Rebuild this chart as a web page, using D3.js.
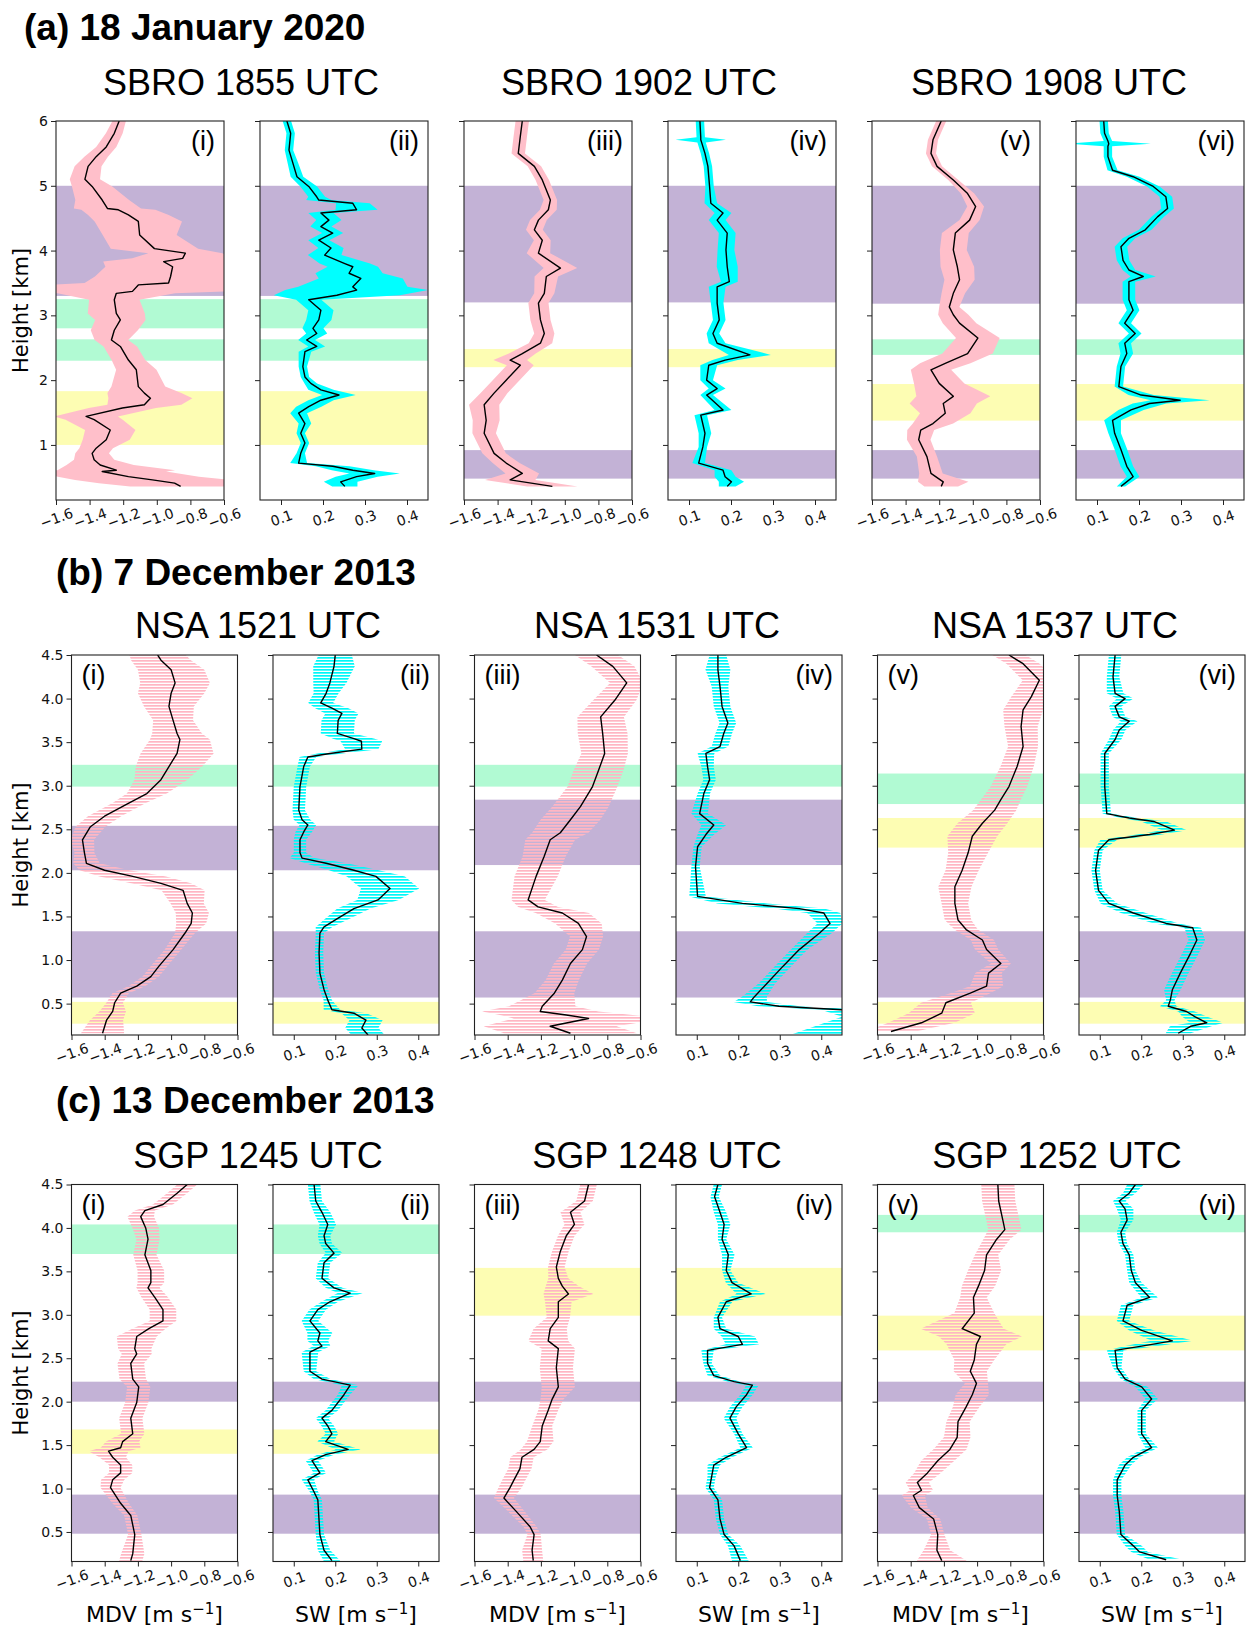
<!DOCTYPE html>
<html><head><meta charset="utf-8">
<script src="https://cdn.jsdelivr.net/npm/d3@7"></script>
<style>body{margin:0;background:#fff}svg{display:block}</style>
</head><body>
<svg id="fig" width="1259" height="1636"></svg>
<script>
// ---------------- data ----------------
const rowTitles = ["(a) 18 January 2020", "(b) 7 December 2013", "(c) 13 December 2013"];
const subTitlesA = ["SBRO 1855 UTC", "SBRO 1902 UTC", "SBRO 1908 UTC"];
const subTitlesB = ["NSA 1521 UTC", "NSA 1531 UTC", "NSA 1537 UTC"];
const subTitlesC = ["SGP 1245 UTC", "SGP 1248 UTC", "SGP 1252 UTC"];
const panelLabels = ["(i)", "(ii)", "(iii)", "(iv)", "(v)", "(vi)"];
const mdvTicks = [-1.6, -1.4, -1.2, -1.0, -0.8, -0.6];
const swTicks = [0.1, 0.2, 0.3, 0.4];
const mdvDomain = [-1.6, -0.6];
const swDomain = [0.05, 0.45];
const heightTicksA = [1, 2, 3, 4, 5, 6];
const heightTicksBC = [0.5, 1.0, 1.5, 2.0, 2.5, 3.0, 3.5, 4.0, 4.5];
const heightDomainA = [0.15, 6];
const heightDomainB = [0.14, 4.5];
const heightDomainC = [0.16, 4.5];

// shaded layers per time pair: [bottom km, top km, kind]
const bandsA = [
  [[3.3, 5.0, "p"], [2.8, 3.25, "g"], [2.3, 2.63, "g"], [1.0, 1.83, "y"]],
  [[3.2, 5.0, "p"], [2.2, 2.48, "y"], [0.48, 0.92, "p"]],
  [[3.18, 5.0, "p"], [2.39, 2.63, "g"], [1.375, 1.94, "y"], [0.48, 0.92, "p"]]
];
const bandsB = [
  [[2.99, 3.24, "g"], [2.03, 2.54, "p"], [0.57, 1.33, "p"], [0.27, 0.52, "y"]],
  [[2.99, 3.24, "g"], [2.09, 2.84, "p"], [0.57, 1.33, "p"]],
  [[2.79, 3.14, "g"], [2.29, 2.63, "y"], [0.57, 1.33, "p"], [0.27, 0.52, "y"]]
];
const bandsC = [
  [[3.70, 4.04, "g"], [2.0, 2.23, "p"], [1.40, 1.68, "y"], [0.48, 0.93, "p"]],
  [[2.99, 3.54, "y"], [2.0, 2.23, "p"], [0.48, 0.93, "p"]],
  [[3.95, 4.15, "g"], [2.59, 2.99, "y"], [2.0, 2.23, "p"], [0.48, 0.93, "p"]]
];

// profiles: [height km, value, error half-width]
const a1 = [[6.0,-1.224,0.04],[5.81,-1.253,0.05],[5.60,-1.301,0.06],[5.45,-1.361,0.07],[5.30,-1.409,0.08],[5.10,-1.428,0.09],[4.99,-1.385,0.12],[4.78,-1.325,0.16],[4.65,-1.294,0.2],[4.63,-1.229,0.22],[4.55,-1.169,0.24],[4.45,-1.110,0.26],[4.24,-1.102,0.22],[4.03,-1.014,0.26],[3.96,-0.830,0.22],[3.88,-0.846,0.3],[3.83,-0.959,0.36],[3.75,-0.906,0.4],[3.60,-0.918,0.45],[3.50,-0.930,0.5],[3.47,-1.110,0.55],[3.37,-1.145,0.55],[3.34,-1.241,0.35],[3.24,-1.253,0.15],[3.03,-1.241,0.17],[2.93,-1.217,0.15],[2.77,-1.253,0.14],[2.62,-1.270,0.1],[2.52,-1.217,0.1],[2.31,-1.169,0.1],[2.16,-1.122,0.12],[1.90,-1.110,0.16],[1.80,-1.074,0.22],[1.72,-1.038,0.25],[1.62,-1.074,0.22],[1.57,-1.205,0.2],[1.44,-1.421,0.19],[1.39,-1.373,0.17],[1.23,-1.277,0.15],[1.08,-1.301,0.14],[0.95,-1.361,0.1],[0.87,-1.385,0.1],[0.77,-1.373,0.12],[0.69,-1.337,0.2],[0.61,-1.241,0.35],[0.59,-1.325,0.38],[0.51,-1.169,0.42],[0.46,-1.026,0.46],[0.41,-0.894,0.45],[0.36,-0.858,0.3]];
const a2 = [[6.0,0.114,0.01],[5.81,0.123,0.01],[5.55,0.119,0.01],[5.40,0.126,0.012],[5.14,0.138,0.015],[4.99,0.166,0.02],[4.83,0.185,0.02],[4.78,0.190,0.03],[4.73,0.271,0.04],[4.63,0.280,0.05],[4.58,0.195,0.03],[4.47,0.214,0.03],[4.37,0.195,0.025],[4.27,0.223,0.025],[4.16,0.190,0.025],[4.04,0.219,0.03],[3.93,0.204,0.04],[3.80,0.252,0.06],[3.75,0.271,0.06],[3.65,0.262,0.08],[3.57,0.290,0.1],[3.44,0.271,0.13],[3.39,0.280,0.17],[3.31,0.233,0.15],[3.24,0.166,0.03],[3.08,0.195,0.03],[2.93,0.190,0.03],[2.80,0.176,0.025],[2.72,0.185,0.025],[2.62,0.161,0.02],[2.52,0.185,0.02],[2.44,0.157,0.015],[2.21,0.152,0.01],[2.05,0.157,0.01],[1.95,0.171,0.015],[1.85,0.195,0.03],[1.77,0.238,0.04],[1.69,0.195,0.03],[1.59,0.166,0.03],[1.49,0.142,0.02],[1.33,0.157,0.015],[1.18,0.147,0.01],[1.03,0.157,0.01],[0.87,0.147,0.01],[0.72,0.142,0.02],[0.67,0.223,0.04],[0.61,0.271,0.05],[0.56,0.323,0.06],[0.51,0.280,0.05],[0.43,0.242,0.04],[0.36,0.252,0.03]];
const a3 = [[6.0,-1.253,0.04],[5.76,-1.265,0.04],[5.50,-1.277,0.04],[5.45,-1.253,0.04],[5.30,-1.181,0.04],[5.09,-1.134,0.04],[4.78,-1.086,0.04],[4.63,-1.098,0.05],[4.47,-1.157,0.05],[4.32,-1.181,0.05],[4.16,-1.134,0.05],[3.96,-1.157,0.07],[3.73,-1.026,0.1],[3.60,-1.110,0.07],[3.34,-1.122,0.06],[3.19,-1.157,0.06],[2.93,-1.145,0.06],[2.72,-1.122,0.06],[2.57,-1.145,0.07],[2.41,-1.253,0.08],[2.31,-1.325,0.1],[2.23,-1.265,0.08],[2.00,-1.349,0.08],[1.80,-1.421,0.08],[1.62,-1.480,0.09],[1.38,-1.468,0.08],[1.18,-1.480,0.07],[0.87,-1.421,0.07],[0.72,-1.349,0.08],[0.56,-1.253,0.1],[0.46,-1.325,0.15],[0.36,-1.074,0.15]];
const a4 = [[6.0,0.126,0.01],[5.75,0.128,0.01],[5.71,0.128,0.06],[5.67,0.130,0.01],[5.50,0.138,0.01],[5.30,0.145,0.01],[4.99,0.149,0.01],[4.73,0.152,0.015],[4.58,0.181,0.02],[4.47,0.167,0.02],[4.27,0.191,0.02],[4.01,0.188,0.02],[3.75,0.191,0.025],[3.52,0.196,0.02],[3.44,0.167,0.02],[3.19,0.167,0.015],[2.93,0.172,0.015],[2.72,0.157,0.015],[2.57,0.167,0.02],[2.39,0.245,0.05],[2.31,0.186,0.03],[2.23,0.147,0.02],[2.00,0.142,0.015],[1.87,0.167,0.02],[1.77,0.142,0.015],[1.54,0.181,0.02],[1.46,0.128,0.015],[1.18,0.138,0.015],[0.97,0.133,0.01],[0.72,0.123,0.015],[0.61,0.181,0.02],[0.51,0.186,0.025],[0.43,0.201,0.03],[0.36,0.191,0.02]];
const a5 = [[6.0,-1.188,0.03],[5.71,-1.237,0.03],[5.50,-1.249,0.03],[5.30,-1.213,0.03],[5.09,-1.116,0.03],[4.88,-1.031,0.04],[4.68,-0.983,0.05],[4.47,-1.019,0.06],[4.27,-1.104,0.08],[4.01,-1.116,0.08],[3.75,-1.092,0.1],[3.55,-1.079,0.09],[3.34,-1.116,0.07],[3.13,-1.140,0.06],[3.01,-1.116,0.09],[2.88,-1.079,0.1],[2.65,-0.970,0.13],[2.41,-1.031,0.15],[2.26,-1.164,0.15],[2.16,-1.249,0.12],[1.95,-1.200,0.15],[1.75,-1.116,0.22],[1.64,-1.176,0.2],[1.49,-1.164,0.15],[1.33,-1.237,0.12],[1.23,-1.310,0.08],[1.08,-1.322,0.07],[0.82,-1.273,0.06],[0.56,-1.249,0.07],[0.43,-1.176,0.15],[0.36,-1.188,0.1]];
const a6 = [[6.0,0.116,0.01],[5.81,0.118,0.01],[5.69,0.126,0.01],[5.65,0.128,0.1],[5.61,0.126,0.01],[5.45,0.126,0.01],[5.24,0.137,0.012],[5.14,0.186,0.015],[4.99,0.234,0.015],[4.83,0.264,0.015],[4.65,0.268,0.015],[4.52,0.244,0.015],[4.32,0.215,0.015],[4.19,0.176,0.015],[4.06,0.157,0.015],[3.85,0.162,0.015],[3.70,0.176,0.015],[3.60,0.210,0.03],[3.52,0.176,0.015],[3.24,0.176,0.015],[3.08,0.186,0.015],[2.88,0.166,0.015],[2.72,0.191,0.015],[2.57,0.166,0.015],[2.41,0.171,0.015],[2.21,0.157,0.01],[1.90,0.152,0.01],[1.77,0.205,0.03],[1.69,0.298,0.07],[1.64,0.225,0.04],[1.54,0.181,0.03],[1.38,0.137,0.02],[1.18,0.142,0.015],[0.93,0.157,0.015],[0.67,0.171,0.015],[0.51,0.186,0.015],[0.36,0.157,0.01]];

const b1 = [[4.50,-1.081,0.17],[4.44,-1.061,0.18],[4.33,-1.000,0.2],[4.18,-0.976,0.21],[4.06,-1.000,0.2],[3.91,-1.013,0.15],[3.75,-0.988,0.12],[3.60,-0.964,0.15],[3.53,-0.947,0.18],[3.37,-0.964,0.22],[3.22,-1.013,0.2],[3.07,-1.061,0.16],[2.91,-1.146,0.12],[2.80,-1.255,0.1],[2.65,-1.401,0.1],[2.53,-1.486,0.09],[2.38,-1.534,0.07],[2.23,-1.522,0.06],[2.11,-1.510,0.08],[2.03,-1.401,0.15],[1.96,-1.231,0.2],[1.88,-1.061,0.18],[1.80,-0.928,0.13],[1.65,-0.903,0.1],[1.54,-0.872,0.1],[1.42,-0.879,0.09],[1.31,-0.916,0.06],[1.12,-0.988,0.05],[0.93,-1.073,0.05],[0.81,-1.122,0.05],[0.70,-1.207,0.05],[0.62,-1.304,0.05],[0.51,-1.340,0.05],[0.41,-1.352,0.08],[0.31,-1.389,0.1],[0.16,-1.413,0.13]];
const b2 = [[4.50,0.200,0.04],[4.37,0.197,0.05],[4.18,0.187,0.04],[4.06,0.178,0.03],[3.95,0.165,0.03],[3.89,0.192,0.04],[3.83,0.216,0.04],[3.75,0.207,0.04],[3.60,0.205,0.04],[3.54,0.245,0.05],[3.51,0.263,0.05],[3.42,0.264,0.04],[3.37,0.187,0.03],[3.33,0.134,0.02],[3.22,0.124,0.015],[2.99,0.115,0.015],[2.72,0.112,0.015],[2.61,0.120,0.02],[2.55,0.134,0.02],[2.47,0.124,0.02],[2.38,0.115,0.015],[2.23,0.115,0.015],[2.17,0.120,0.03],[2.11,0.178,0.05],[2.03,0.245,0.06],[1.96,0.298,0.07],[1.82,0.332,0.07],[1.69,0.303,0.05],[1.59,0.245,0.04],[1.48,0.207,0.03],[1.38,0.173,0.02],[1.31,0.163,0.01],[1.08,0.161,0.01],[0.85,0.163,0.01],[0.66,0.173,0.01],[0.54,0.182,0.01],[0.43,0.192,0.02],[0.39,0.245,0.03],[0.31,0.274,0.04],[0.22,0.264,0.04],[0.14,0.279,0.04]];
const b3 = [[4.50,-0.865,0.13],[4.37,-0.767,0.13],[4.18,-0.683,0.1],[3.98,-0.755,0.13],[3.79,-0.840,0.14],[3.60,-0.828,0.15],[3.37,-0.816,0.14],[3.18,-0.852,0.15],[2.99,-0.889,0.15],[2.76,-0.962,0.17],[2.61,-1.022,0.18],[2.46,-1.083,0.17],[2.38,-1.144,0.15],[2.19,-1.180,0.13],[1.96,-1.229,0.13],[1.69,-1.277,0.1],[1.61,-1.217,0.12],[1.54,-1.071,0.16],[1.42,-0.974,0.14],[1.27,-0.925,0.1],[1.12,-0.950,0.1],[0.96,-1.022,0.1],[0.77,-1.071,0.1],[0.62,-1.119,0.12],[0.47,-1.192,0.2],[0.41,-1.204,0.35],[0.37,-1.047,0.4],[0.33,-0.913,0.45],[0.24,-1.144,0.4],[0.16,-1.022,0.4]];
const b4 = [[4.50,0.151,0.02],[4.33,0.151,0.03],[4.14,0.156,0.02],[3.91,0.161,0.02],[3.72,0.175,0.02],[3.60,0.165,0.02],[3.45,0.156,0.02],[3.37,0.122,0.02],[3.22,0.126,0.015],[3.07,0.131,0.015],[2.91,0.117,0.015],[2.68,0.107,0.02],[2.55,0.141,0.03],[2.44,0.122,0.02],[2.30,0.102,0.01],[2.07,0.097,0.01],[1.73,0.102,0.02],[1.65,0.210,0.06],[1.59,0.347,0.06],[1.54,0.406,0.04],[1.42,0.421,0.03],[1.31,0.396,0.03],[1.12,0.347,0.02],[0.93,0.308,0.02],[0.73,0.269,0.02],[0.58,0.239,0.03],[0.52,0.229,0.04],[0.47,0.298,0.05],[0.43,0.45,0.05],[0.35,0.50,0.05],[0.15,0.48,0.15]];
const b5 = [[4.50,-0.808,0.1],[4.40,-0.723,0.1],[4.21,-0.625,0.1],[4.02,-0.674,0.12],[3.87,-0.723,0.12],[3.68,-0.735,0.1],[3.45,-0.723,0.09],[3.22,-0.759,0.1],[2.99,-0.808,0.11],[2.84,-0.857,0.12],[2.72,-0.894,0.13],[2.57,-0.968,0.15],[2.42,-1.029,0.15],[2.23,-1.054,0.12],[2.03,-1.090,0.1],[1.84,-1.134,0.1],[1.65,-1.134,0.08],[1.46,-1.115,0.08],[1.35,-1.066,0.07],[1.23,-0.968,0.07],[1.12,-0.943,0.07],[0.96,-0.857,0.06],[0.85,-0.931,0.08],[0.70,-0.943,0.1],[0.62,-1.041,0.12],[0.51,-1.188,0.15],[0.39,-1.213,0.2],[0.28,-1.335,0.2],[0.18,-1.519,0.15]];
const b6 = [[4.50,0.137,0.015],[4.25,0.132,0.015],[4.06,0.137,0.02],[4.00,0.161,0.02],[3.91,0.137,0.015],[3.79,0.147,0.015],[3.74,0.171,0.02],[3.64,0.147,0.015],[3.53,0.137,0.015],[3.37,0.112,0.01],[2.99,0.112,0.01],[2.68,0.117,0.01],[2.63,0.171,0.02],[2.59,0.230,0.03],[2.49,0.280,0.03],[2.44,0.220,0.03],[2.38,0.122,0.02],[2.26,0.097,0.01],[2.03,0.090,0.01],[1.80,0.097,0.01],[1.65,0.122,0.02],[1.54,0.181,0.03],[1.42,0.260,0.03],[1.37,0.324,0.02],[1.23,0.334,0.02],[1.08,0.319,0.02],[0.85,0.294,0.02],[0.66,0.275,0.02],[0.54,0.270,0.01],[0.47,0.265,0.02],[0.41,0.309,0.02],[0.35,0.329,0.03],[0.28,0.358,0.04],[0.24,0.319,0.05],[0.16,0.289,0.03]];

const c1 = [[4.50,-0.903,0.06],[4.40,-0.964,0.06],[4.27,-1.049,0.06],[4.20,-1.158,0.06],[4.13,-1.183,0.08],[4.00,-1.153,0.08],[3.87,-1.139,0.07],[3.69,-1.158,0.07],[3.51,-1.122,0.08],[3.37,-1.122,0.08],[3.31,-1.139,0.07],[3.20,-1.098,0.08],[3.06,-1.049,0.08],[2.93,-1.049,0.08],[2.84,-1.134,0.1],[2.75,-1.207,0.12],[2.61,-1.219,0.1],[2.55,-1.207,0.09],[2.44,-1.243,0.08],[2.26,-1.231,0.08],[2.17,-1.195,0.07],[1.99,-1.207,0.07],[1.81,-1.243,0.07],[1.63,-1.231,0.07],[1.54,-1.292,0.1],[1.47,-1.304,0.12],[1.43,-1.377,0.12],[1.36,-1.352,0.08],[1.27,-1.304,0.07],[1.18,-1.304,0.07],[1.10,-1.352,0.07],[1.01,-1.365,0.06],[0.83,-1.304,0.05],[0.69,-1.243,0.04],[0.47,-1.219,0.04],[0.25,-1.231,0.07],[0.17,-1.243,0.07]];
const c2 = [[4.50,0.149,0.015],[4.31,0.153,0.015],[4.18,0.168,0.02],[4.04,0.182,0.02],[3.91,0.173,0.015],[3.82,0.177,0.015],[3.71,0.197,0.02],[3.60,0.173,0.015],[3.42,0.168,0.015],[3.31,0.197,0.02],[3.25,0.236,0.03],[3.15,0.187,0.02],[3.06,0.158,0.02],[2.93,0.139,0.02],[2.79,0.163,0.03],[2.70,0.158,0.025],[2.64,0.168,0.02],[2.57,0.139,0.02],[2.35,0.139,0.015],[2.26,0.168,0.02],[2.19,0.236,0.02],[2.08,0.221,0.015],[1.90,0.192,0.015],[1.81,0.168,0.015],[1.72,0.182,0.015],[1.63,0.192,0.015],[1.54,0.177,0.02],[1.45,0.231,0.03],[1.39,0.177,0.02],[1.32,0.144,0.015],[1.18,0.163,0.015],[1.10,0.134,0.015],[0.96,0.149,0.01],[0.87,0.158,0.01],[0.47,0.163,0.01],[0.29,0.173,0.015],[0.17,0.192,0.02]];
const c3 = [[4.50,-0.913,0.05],[4.31,-0.937,0.05],[4.18,-1.022,0.06],[4.04,-0.998,0.06],[3.91,-1.047,0.05],[3.73,-1.083,0.05],[3.55,-1.107,0.05],[3.42,-1.095,0.06],[3.33,-1.071,0.1],[3.24,-1.034,0.15],[3.15,-1.095,0.08],[2.97,-1.095,0.07],[2.84,-1.144,0.1],[2.70,-1.156,0.12],[2.61,-1.095,0.1],[2.39,-1.107,0.1],[2.17,-1.095,0.1],[2.03,-1.132,0.07],[1.90,-1.156,0.06],[1.72,-1.192,0.06],[1.54,-1.204,0.08],[1.45,-1.241,0.08],[1.36,-1.314,0.07],[1.23,-1.326,0.07],[1.10,-1.362,0.07],[1.01,-1.386,0.07],[0.89,-1.423,0.06],[0.74,-1.350,0.05],[0.56,-1.265,0.04],[0.47,-1.241,0.04],[0.29,-1.253,0.06],[0.17,-1.246,0.06]];
const c4 = [[4.50,0.151,0.01],[4.36,0.143,0.01],[4.18,0.156,0.015],[4.04,0.166,0.015],[3.87,0.161,0.01],[3.69,0.176,0.015],[3.51,0.171,0.01],[3.37,0.185,0.015],[3.24,0.231,0.035],[3.15,0.171,0.015],[2.97,0.151,0.01],[2.84,0.156,0.015],[2.75,0.200,0.04],[2.66,0.210,0.04],[2.59,0.126,0.015],[2.44,0.126,0.01],[2.30,0.141,0.015],[2.23,0.190,0.015],[2.19,0.234,0.015],[2.08,0.220,0.015],[1.94,0.195,0.015],[1.81,0.180,0.015],[1.63,0.200,0.01],[1.47,0.220,0.015],[1.36,0.171,0.015],[1.27,0.141,0.015],[1.14,0.136,0.01],[1.01,0.131,0.01],[0.87,0.151,0.01],[0.65,0.156,0.01],[0.47,0.166,0.01],[0.34,0.190,0.015],[0.17,0.205,0.02]];
const c5 = [[4.50,-0.875,0.1],[4.31,-0.870,0.1],[4.09,-0.845,0.1],[3.98,-0.833,0.1],[3.87,-0.882,0.08],[3.69,-0.943,0.07],[3.51,-0.955,0.1],[3.33,-0.992,0.1],[3.20,-1.022,0.08],[3.02,-1.017,0.12],[2.84,-1.090,0.25],[2.75,-0.980,0.25],[2.66,-1.004,0.18],[2.48,-1.017,0.12],[2.35,-1.041,0.1],[2.21,-1.004,0.07],[2.08,-1.029,0.1],[1.94,-1.066,0.08],[1.77,-1.115,0.07],[1.59,-1.120,0.08],[1.45,-1.164,0.1],[1.32,-1.237,0.1],[1.18,-1.299,0.08],[1.07,-1.360,0.07],[0.98,-1.335,0.07],[0.92,-1.384,0.07],[0.78,-1.348,0.05],[0.65,-1.262,0.04],[0.47,-1.237,0.04],[0.29,-1.242,0.08],[0.17,-1.213,0.15]];
const c6 = [[4.50,0.186,0.02],[4.40,0.171,0.015],[4.31,0.147,0.015],[4.22,0.161,0.02],[4.09,0.166,0.015],[3.95,0.151,0.01],[3.82,0.156,0.01],[3.69,0.171,0.01],[3.51,0.176,0.01],[3.37,0.186,0.015],[3.20,0.220,0.02],[3.11,0.166,0.015],[2.93,0.156,0.015],[2.82,0.201,0.03],[2.70,0.275,0.05],[2.64,0.201,0.04],[2.59,0.137,0.02],[2.39,0.142,0.01],[2.26,0.161,0.01],[2.17,0.201,0.015],[2.03,0.225,0.015],[1.90,0.201,0.01],[1.63,0.201,0.01],[1.47,0.225,0.015],[1.36,0.181,0.015],[1.27,0.161,0.015],[1.10,0.142,0.01],[0.92,0.142,0.01],[0.74,0.147,0.01],[0.47,0.151,0.01],[0.34,0.181,0.02],[0.27,0.196,0.02],[0.18,0.260,0.04]];

// ---------------- drawing ----------------
const svg = d3.select("#fig");
const defs = svg.append("defs");
const bandColor = {p: "#c3b2d6", g: "#b1fad3", y: "#fdfdb3"};
const PINK = "#ffbfca", CYAN = "#00ffff";
function stripe(id, color) {
  const p = defs.append("pattern").attr("id", id).attr("patternUnits", "userSpaceOnUse")
    .attr("width", 10).attr("height", 3);
  p.append("rect").attr("width", 10).attr("height", 1.7).attr("fill", color);
}
stripe("stripePink", "#ffb6c3");
stripe("stripeCyan", "#00f8f8");

const SANS = "'Liberation Sans', Arial, Helvetica, sans-serif";
const DEJA = "'DejaVu Sans', sans-serif";

const rows = [
  {title: rowTitles[0], subs: subTitlesA, titleX: 24, titleY: 40, subY: 95, subX: [241, 639, 1049],
   top: 121, bottom: 500, left0: 56, step: 204, w: 168, hDomain: heightDomainA, hTicks: heightTicksA,
   hFmt: d3.format("d"), solid: true, leftLabels: false, panels: [a1, a2, a3, a4, a5, a6], bands: bandsA, xlab: false},
  {title: rowTitles[1], subs: subTitlesB, titleX: 56, titleY: 585, subY: 638, subX: [258, 657, 1055],
   top: 655, bottom: 1035, left0: 71.5, step: 201.5, w: 166, hDomain: heightDomainB, hTicks: heightTicksBC,
   hFmt: d3.format(".1f"), solid: false, leftLabels: true, panels: [b1, b2, b3, b4, b5, b6], bands: bandsB, xlab: false},
  {title: rowTitles[2], subs: subTitlesC, titleX: 56, titleY: 1113, subY: 1168, subX: [258, 657, 1057],
   top: 1184.5, bottom: 1561.5, left0: 71.5, step: 201.5, w: 166, hDomain: heightDomainC, hTicks: heightTicksBC,
   hFmt: d3.format(".1f"), solid: false, leftLabels: true, panels: [c1, c2, c3, c4, c5, c6], bands: bandsC, xlab: true}
];

rows.forEach((R, ri) => {
  svg.append("text").attr("x", R.titleX).attr("y", R.titleY)
    .attr("font-family", SANS).attr("font-weight", "bold").attr("font-size", 37).text(R.title);
  R.subs.forEach((s, k) => {
    svg.append("text").attr("x", R.subX[k]).attr("y", R.subY).attr("text-anchor", "middle")
      .attr("font-family", SANS).attr("font-size", 36).text(s);
  });
  svg.append("text").attr("transform", `translate(28,${(R.top + R.bottom) / 2}) rotate(-90)`)
    .attr("text-anchor", "middle").attr("font-family", DEJA).attr("font-size", 21).text("Height [km]");

  R.panels.forEach((data, k) => {
    const isMDV = k % 2 === 0;
    const left = R.left0 + R.step * k;
    const x = d3.scaleLinear().domain(isMDV ? mdvDomain : swDomain).range([left, left + R.w]);
    const y = d3.scaleLinear().domain(R.hDomain).range([R.bottom, R.top]);
    const g = svg.append("g");
    const cid = `clip${ri}_${k}`;
    defs.append("clipPath").attr("id", cid).append("rect")
      .attr("x", left).attr("y", R.top).attr("width", R.w).attr("height", R.bottom - R.top);
    const inner = g.append("g").attr("clip-path", `url(#${cid})`);

    // layers
    const bands = R.bands[Math.floor(k / 2)];
    inner.selectAll("rect.band").data(bands).join("rect").attr("class", "band")
      .attr("x", left).attr("width", R.w)
      .attr("y", d => y(d[1])).attr("height", d => y(d[0]) - y(d[1]))
      .attr("fill", d => bandColor[d[2]]);

    // error band
    const area = d3.area().y(d => y(d[0])).x0(d => x(d[1] - d[2])).x1(d => x(d[1] + d[2]));
    const fill = R.solid ? (isMDV ? PINK : CYAN) : (isMDV ? "url(#stripePink)" : "url(#stripeCyan)");
    inner.append("path").datum(data).attr("d", area).attr("fill", fill);

    // profile line
    const line = d3.line().y(d => y(d[0])).x(d => x(d[1]));
    inner.append("path").datum(data).attr("d", line).attr("fill", "none")
      .attr("stroke", "#000").attr("stroke-width", 1.4).attr("stroke-linejoin", "round");

    // axes
    const xa = d3.axisBottom(x).tickValues(isMDV ? mdvTicks : swTicks).tickSize(5).tickFormat(d3.format(".1f"));
    const gx = g.append("g").attr("transform", `translate(0,${R.bottom})`).call(xa);
    gx.select(".domain").remove();
    gx.selectAll("line").attr("stroke", "#222");
    gx.selectAll("text").attr("y", null).attr("dy", null)
      .attr("dominant-baseline", "central")
      .attr("transform", "translate(0,18) rotate(-20)")
      .attr("font-family", DEJA).attr("font-size", 14).attr("fill", "#111");

    const ya = d3.axisLeft(y).tickValues(R.hTicks).tickSize(5).tickPadding(3)
      .tickFormat(k === 0 ? R.hFmt : () => "");
    const gy = g.append("g").attr("transform", `translate(${left},0)`).call(ya);
    gy.select(".domain").remove();
    gy.selectAll("line").attr("stroke", "#222");
    gy.selectAll("text").attr("font-family", DEJA).attr("font-size", 14).attr("fill", "#111");

    g.append("rect").attr("x", left).attr("y", R.top).attr("width", R.w).attr("height", R.bottom - R.top)
      .attr("fill", "none").attr("stroke", "#222").attr("stroke-width", 1.1);

    // panel label
    const onLeft = R.leftLabels && isMDV;
    g.append("text").attr("x", onLeft ? left + 10 : left + R.w - 9).attr("y", R.top + 29)
      .attr("text-anchor", onLeft ? "start" : "end")
      .attr("font-family", SANS).attr("font-size", 27).text(panelLabels[k]);

    if (R.xlab) {
      const t = g.append("text").attr("x", left + R.w / 2).attr("y", 1622).attr("text-anchor", "middle")
        .attr("font-family", DEJA).attr("font-size", 22);
      t.append("tspan").text((isMDV ? "MDV" : "SW") + " [m s");
      t.append("tspan").attr("dy", -8).attr("font-size", 15).text("\u22121");
      t.append("tspan").attr("dy", 8).text("]");
    }
  });
});
</script>
</body></html>
